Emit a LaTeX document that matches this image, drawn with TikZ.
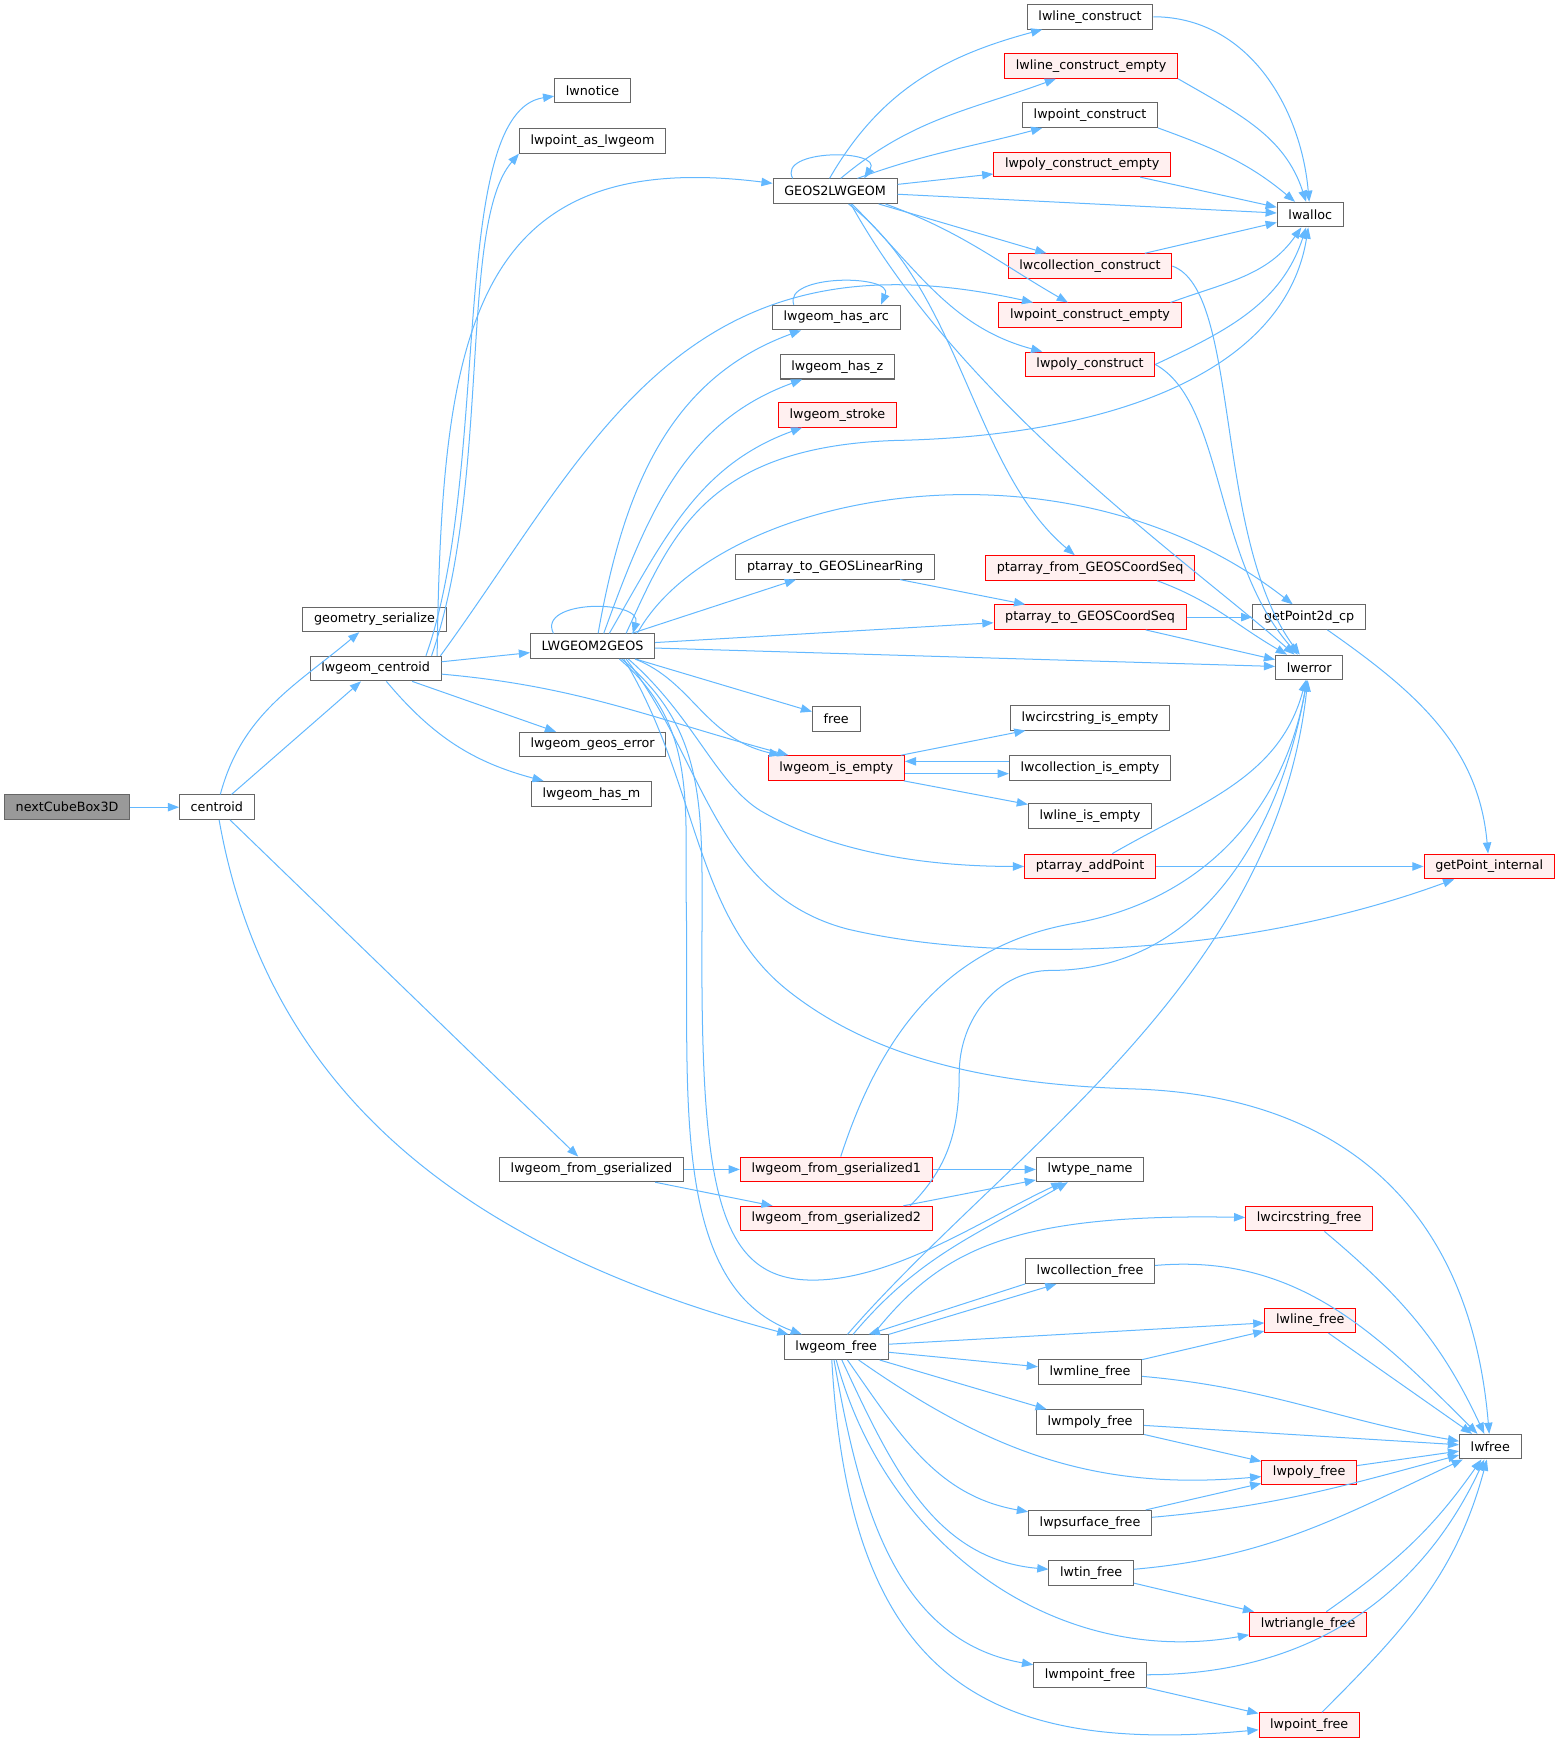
\documentclass[tikz,border=0pt]{standalone}
\usepackage{fontspec}
\setmainfont{DejaVu Sans}
\usepackage{tikz}
\usetikzlibrary{arrows.meta}
\definecolor{callblue}{HTML}{63B8FF}
\definecolor{boxgray}{HTML}{666666}
\definecolor{rootgray}{HTML}{999999}
\definecolor{truncfill}{HTML}{FFF0F0}

\begin{document}
\begin{tikzpicture}[
  x=1pt, y=1pt,
  >={Triangle[length=10pt,width=7.5pt]},
  fn/.style={draw=boxgray, line width=0.9pt, fill=white, inner xsep=10pt, inner ysep=2pt,
             minimum height=22pt, font=\fontsize{11.4}{13}\selectfont},
  trunc/.style={fn, draw=red, fill=truncfill},
  root/.style={fn, fill=rootgray},
  link/.style={->, draw=callblue, line width=0.9pt},
]
\useasboundingbox (0,0) rectangle (1398,-1568);
\node[root] (nextcube) at (60,-722) {nextCubeBox3D};
\node[fn] (centroid) at (194,-722) {centroid};
\node[fn] (geomser) at (335,-554) {geometry\_serialize};
\node[fn] (lwcentroid) at (336,-598) {lwgeom\_centroid};
\node[fn] (fromgser) at (529,-1046) {lwgeom\_from\_gserialized};
\node[fn] (lwgeomfree) at (748,-1205) {lwgeom\_free};
\node[fn] (lwnotice) at (530,-81) {lwnotice};
\node[fn] (ptaslwgeom) at (530,-126) {lwpoint\_as\_lwgeom};
\node[fn] (geos2lw) at (747,-171) {GEOS2LWGEOM};
\node[fn] (lw2geos) at (530,-578) {LWGEOM2GEOS};
\node[fn] (geoserror) at (530,-666) {lwgeom\_geos\_error};
\node[fn] (hasm) at (529,-710) {lwgeom\_has\_m};
\node[trunc] (isempty) at (748,-687) {lwgeom\_is\_empty};
\node[fn] (lineconstr) at (975,-15) {lwline\_construct};
\node[trunc] (lineconstrempty) at (976,-59) {lwline\_construct\_empty};
\node[fn] (ptconstr) at (975,-103) {lwpoint\_construct};
\node[trunc] (polyconstrempty) at (968,-147) {lwpoly\_construct\_empty};
\node[fn] (lwalloc) at (1172,-192) {lwalloc};
\node[trunc] (collconstr) at (975,-238) {lwcollection\_construct};
\node[trunc] (ptconstrempty) at (975,-282) {lwpoint\_construct\_empty};
\node[trunc] (polyconstr) at (975,-326) {lwpoly\_construct};
\node[fn] (hasarc) at (748,-284) {lwgeom\_has\_arc};
\node[fn] (hasz) at (749,-328) {lwgeom\_has\_z};
\node[trunc] (stroke) at (749,-371) {lwgeom\_stroke};
\node[fn] (toring) at (747,-507) {ptarray\_to\_GEOSLinearRing};
\node[trunc] (fromseq) at (975,-508) {ptarray\_from\_GEOSCoordSeq};
\node[trunc] (toseq) at (975,-552) {ptarray\_to\_GEOSCoordSeq};
\node[fn] (getp2d) at (1171,-552) {getPoint2d\_cp};
\node[fn] (lwerror) at (1171,-597) {lwerror};
\node[fn] (free) at (748,-643) {free};
\node[fn] (circempty) at (975,-642) {lwcircstring\_is\_empty};
\node[fn] (collempty) at (975,-687) {lwcollection\_is\_empty};
\node[fn] (lineempty) at (975,-730) {lwline\_is\_empty};
\node[trunc] (addpoint) at (975,-775) {ptarray\_addPoint};
\node[trunc] (getpint) at (1332,-775) {getPoint\_internal};
\node[trunc] (fromgser1) at (748,-1046) {lwgeom\_from\_gserialized1};
\node[trunc] (fromgser2) at (748,-1090) {lwgeom\_from\_gserialized2};
\node[fn] (typename) at (975,-1046) {lwtype\_name};
\node[trunc] (circfree) at (1171,-1090) {lwcircstring\_free};
\node[fn] (collfree) at (975,-1137) {lwcollection\_free};
\node[trunc] (linefree) at (1172,-1181) {lwline\_free};
\node[fn] (mlinefree) at (975,-1227) {lwmline\_free};
\node[fn] (mpolyfree) at (975,-1272) {lwmpoly\_free};
\node[trunc] (polyfree) at (1171,-1317) {lwpoly\_free};
\node[fn] (lwfree) at (1333,-1294) {lwfree};
\node[fn] (psurffree) at (975,-1362) {lwpsurface\_free};
\node[fn] (tinfree) at (976,-1407) {lwtin\_free};
\node[trunc] (trifree) at (1170,-1453) {lwtriangle\_free};
\node[fn] (mpointfree) at (975,-1498) {lwmpoint\_free};
\node[trunc] (pointfree) at (1171,-1543) {lwpoint\_free};
\draw[link] (nextcube) -- (centroid);
\draw[link] (centroid) to[out=75,in=-140] (geomser);
\draw[link] (centroid) -- (lwcentroid);
\draw[link] (centroid) -- (fromgser);
\draw[link] (centroid) to[out=-80,in=165] (lwgeomfree);
\draw[link] ([xshift=45]lwcentroid.north) .. controls (440,-420) and (400,-100) .. (lwnotice);
\draw[link] ([xshift=50]lwcentroid.north) .. controls (440,-430) and (410,-200) .. (ptaslwgeom.south west);
\draw[link] ([xshift=55]lwcentroid.north) .. controls (395,-300) and (420,-130) .. (geos2lw);
\draw[link] (lwcentroid) -- (lw2geos);
\draw[link] (lwcentroid) -- (geoserror);
\draw[link] (lwcentroid) to[out=-50,in=165] (hasm);
\draw[link] ([yshift=-5]lwcentroid.east) to[out=-5,in=165] (isempty);
\draw[link] ([xshift=58]lwcentroid.north) .. controls (530,-400) and (610,-200) .. (ptconstrempty);
\draw[link] ([xshift=-38]geos2lw.north) .. controls (695,-133) and (790,-133) .. ([xshift=26]geos2lw.north);
\draw[link] ([xshift=-5]geos2lw.north) to[out=60,in=195] (lineconstr);
\draw[link] ([xshift=5]geos2lw.north) to[out=40,in=200] (lineconstrempty);
\draw[link] ([xshift=20]geos2lw.north) to[out=20,in=195] (ptconstr);
\draw[link] (geos2lw) -- (polyconstrempty);
\draw[link] (geos2lw) -- (lwalloc);
\draw[link] (geos2lw) -- (collconstr);
\draw[link] ([xshift=45]geos2lw.south) to[out=-20,in=150] (ptconstrempty);
\draw[link] ([xshift=15]geos2lw.south) to[out=-45,in=165] (polyconstr);
\draw[link] ([xshift=12]geos2lw.south) .. controls (860,-260) and (870,-420) .. (fromseq);
\draw[link] ([xshift=14]geos2lw.south) .. controls (860,-360) and (1060,-500) .. (lwerror);
\draw[link] (lineconstr) to[out=0,in=95] (lwalloc);
\draw[link] (lineconstrempty.south east) to[out=-30,in=108] (lwalloc);
\draw[link] (ptconstr.south east) to[out=-20,in=140] (lwalloc);
\draw[link] (polyconstrempty) -- (lwalloc);
\draw[link] (collconstr) -- (lwalloc);
\draw[link] ([xshift=-10]ptconstrempty.north east) to[out=20,in=-125] (lwalloc);
\draw[link] (polyconstr.east) to[out=25,in=-108] (lwalloc);
\draw[link] (collconstr.east) .. controls (1110,-260) and (1085,-480) .. (lwerror);
\draw[link] (polyconstr.east) .. controls (1095,-360) and (1085,-500) .. (lwerror);
\draw[link] ([xshift=60]fromseq.south) to[out=-20,in=150] (lwerror);
\draw[link] (toseq) -- (lwerror);
\draw[link] (toseq) -- (getp2d);
\draw[link] (getp2d) to[out=-35,in=95] (getpint);
\draw[link] ([xshift=-35]lw2geos.north) .. controls (480,-536) and (575,-536) .. ([xshift=36]lw2geos.north);
\draw[link] ([xshift=5]lw2geos.north) to[out=80,in=200] (hasarc);
\draw[link] ([xshift=10]lw2geos.north) to[out=70,in=200] (hasz);
\draw[link] ([xshift=15]lw2geos.north) to[out=60,in=200] (stroke);
\draw[link] ([xshift=-38]hasarc.north) .. controls (700,-245) and (800,-245) .. ([xshift=40]hasarc.north);
\draw[link] ([xshift=30]lw2geos.north) .. controls (600,-480) and (630,-400) .. (800,-394)
  .. controls (1000,-390) and (1150,-330) .. (lwalloc);
\draw[link] ([xshift=40]lw2geos.north) .. controls (640,-440) and (950,-380) .. (getp2d);
\draw[link] (lw2geos) -- (toring);
\draw[link] (lw2geos) -- (toseq);
\draw[link] (toring) -- (toseq);
\draw[link] (lw2geos) -- (lwerror);
\draw[link] (lw2geos) -- (free);
\draw[link] ([xshift=38]lw2geos.south) .. controls (620,-610) and (630,-660) .. (isempty);
\draw[link] ([xshift=32]lw2geos.south) .. controls (620,-640) and (640,-700) .. (680,-725)
  .. controls (740,-760) and (820,-775) .. (addpoint);
\draw[link] ([xshift=30]lw2geos.south) .. controls (630,-680) and (640,-800) .. (758,-831)
  .. controls (880,-860) and (1100,-860) .. (getpint);
\draw[link] ([xshift=28]lw2geos.south) .. controls (625,-700) and (620,-820) .. (706,-887)
  .. controls (780,-945) and (880,-970) .. (1014,-974)
  .. controls (1200,-980) and (1315,-1080) .. (lwfree);
\draw[link] ([xshift=24]lw2geos.south) .. controls (625,-650) and (612,-720) .. (614,-820)
  .. controls (616,-980) and (600,-1150) .. (lwgeomfree);
\draw[link] ([xshift=26]lw2geos.south) .. controls (630,-650) and (628,-720) .. (628,-820)
  .. controls (626,-1060) and (640,-1145) .. (727,-1145)
  .. controls (800,-1145) and (880,-1090) .. (typename);
\draw[link] (isempty) -- (circempty);
\draw[link] ([yshift=-5]isempty.east) -- ([yshift=-5]collempty.west);
\draw[link] ([yshift=6]collempty.west) -- ([yshift=6]isempty.east);
\draw[link] (isempty) -- (lineempty);
\draw[link] (addpoint) to[out=30,in=-105] (lwerror);
\draw[link] (addpoint) -- (getpint);
\draw[link] (fromgser) -- (fromgser1);
\draw[link] (fromgser) -- (fromgser2);
\draw[link] (fromgser1) -- (typename);
\draw[link] ([xshift=60]fromgser2.north) -- (typename);
\draw[link] ([xshift=4]fromgser1.north) to[out=72,in=190] (960,-826) to[out=10,in=-100] (lwerror);
\draw[link] ([xshift=66]fromgser2.north) to[out=45,in=-90] (858,-960) to[out=90,in=180] (940,-868)
  to[out=0,in=-100] (lwerror);
\draw[link] ([xshift=10]lwgeomfree.north) .. controls (900,-1030) and (1140,-880) .. (lwerror);
\draw[link] ([xshift=15]lwgeomfree.north) to[out=50,in=210] (typename);
\draw[link] ([xshift=33]lwgeomfree.north) .. controls (840,-1120) and (900,-1085) .. (circfree);
\draw[link] (lwgeomfree.north east) -- ([xshift=-30]collfree.south);
\draw[link] (collfree.south west) -- ([xshift=-18]lwgeomfree.north east);
\draw[link] (lwgeomfree) -- (linefree);
\draw[link] (lwgeomfree) -- (mlinefree);
\draw[link] (lwgeomfree) -- (mpolyfree);
\draw[link] ([xshift=20]lwgeomfree.south) to[out=-35,in=185] (polyfree);
\draw[link] ([xshift=10]lwgeomfree.south) to[out=-55,in=170] (psurffree);
\draw[link] ([xshift=5]lwgeomfree.south) to[out=-65,in=175] (tinfree);
\draw[link] (lwgeomfree.south) to[out=-75,in=190] (trifree);
\draw[link] ([xshift=-2]lwgeomfree.south) to[out=-80,in=170] (mpointfree);
\draw[link] ([xshift=-4]lwgeomfree.south) .. controls (760,-1500) and (880,-1570) .. (pointfree);
\draw[link] (circfree) to[out=-40,in=115] (lwfree);
\draw[link] (collfree) to[out=5,in=135] (lwfree);
\draw[link] (linefree) -- (lwfree);
\draw[link] (mlinefree) to[out=-5,in=170] (lwfree);
\draw[link] (mpolyfree) -- (lwfree);
\draw[link] (polyfree) -- (lwfree);
\draw[link] (psurffree) to[out=5,in=195] (lwfree);
\draw[link] (tinfree) to[out=5,in=205] (lwfree);
\draw[link] (trifree) to[out=35,in=-125] (lwfree);
\draw[link] (mpointfree) to[out=0,in=-115] (lwfree);
\draw[link] (pointfree) to[out=45,in=-105] (lwfree);
\draw[link] (mlinefree) -- (linefree);
\draw[link] (mpolyfree) -- (polyfree);
\draw[link] (psurffree) -- (polyfree);
\draw[link] (tinfree) -- (trifree);
\draw[link] (mpointfree) -- (pointfree);
\end{tikzpicture}
\end{document}
